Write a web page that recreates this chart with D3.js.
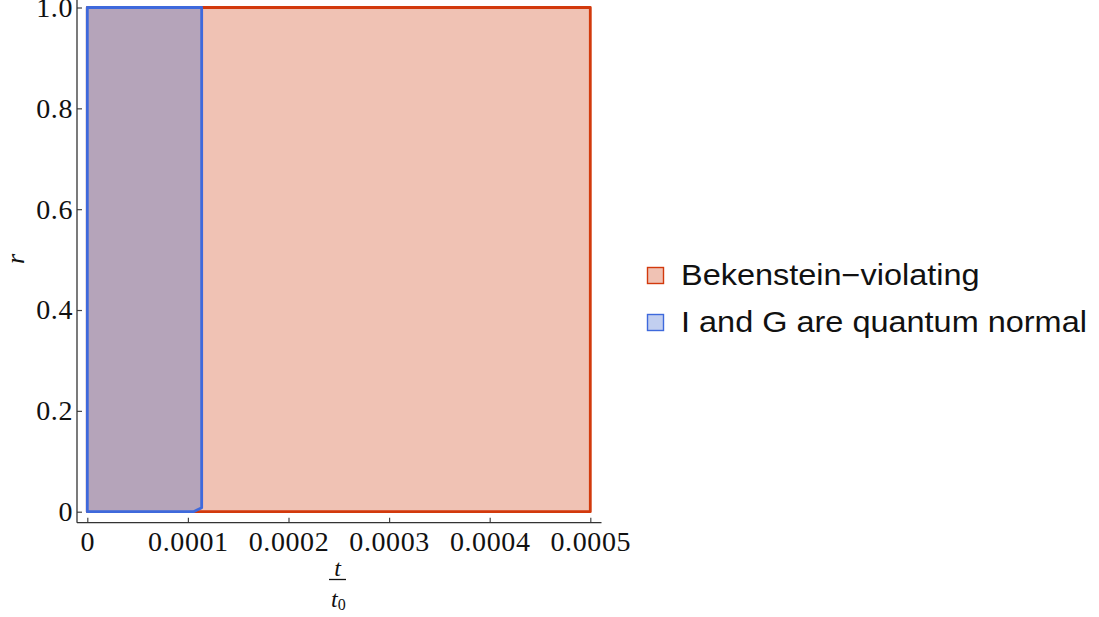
<!DOCTYPE html>
<html>
<head>
<meta charset="utf-8">
<script src="https://cdn.jsdelivr.net/npm/d3@7"></script>
<style>
  body { margin: 0; background: #fff; }
  .tick text { font-family: "Liberation Serif", serif; font-size: 28px; letter-spacing: 0.6px; fill: #111; }
  .leg { font-family: "Liberation Sans", Arial, sans-serif; font-size: 29px; fill: #111; }
</style>
</head>
<body>
<div id="chart"></div>
<script>
// Data
var xTicks = [0, 0.0001, 0.0002, 0.0003, 0.0004, 0.0005];
var yTicks = [0, 0.2, 0.4, 0.6, 0.8, 1.0];
var seriesNames = ["Bekenstein\u2212violating", "I and G are quantum normal"];
// region outlines as (t/t0, r) corners
var bekensteinRegion = [[0, 0], [0.0005, 0], [0.0005, 1], [0, 1]];
var quantumNormalRegion = [[0, 0], [0.0001056, 0], [0.0001137, 0.008], [0.0001137, 1], [0, 1]];

var svgWidth = 1099;
var svgHeight = 617;

var svg = d3.select("#chart")
  .append("svg")
  .attr("width", svgWidth)
  .attr("height", svgHeight);

// Scales
var x = d3.scaleLinear().domain([0, 0.0005]).range([87.3, 590.3]);
var y = d3.scaleLinear().domain([0, 1]).range([511.7, 7.5]);

var line = d3.line().x(d => x(d[0])).y(d => y(d[1])).curve(d3.curveLinearClosed);

// Regions
svg.append("path")
  .datum(bekensteinRegion)
  .attr("d", line)
  .attr("fill", "#f0c2b4")
  .attr("stroke", "#d2390c")
  .attr("stroke-width", 2.8)
  .attr("stroke-linejoin", "round");

svg.append("path")
  .datum(quantumNormalRegion)
  .attr("d", line)
  .attr("fill", "#b5a4ba")
  .attr("stroke", "#3e69dc")
  .attr("stroke-width", 2.8)
  .attr("stroke-linejoin", "round");

// Axes
var axisX = 522.7, axisY = 77;

var bottomAxis = d3.axisBottom(x)
  .tickValues(xTicks)
  .tickSizeInner(-5)
  .tickSizeOuter(0)
  .tickPadding(0)
  .tickFormat(d => d === 0 ? "0" : d.toFixed(4));

var gx = svg.append("g")
  .attr("transform", `translate(0, ${axisX})`)
  .call(bottomAxis);
gx.select(".domain").remove();
gx.selectAll(".tick line").attr("stroke", "#444").attr("stroke-width", 1.2);
gx.selectAll(".tick text").attr("y", 28).attr("dy", 0);

var leftAxis = d3.axisLeft(y)
  .tickValues(yTicks)
  .tickSizeInner(-5)
  .tickSizeOuter(0)
  .tickPadding(4)
  .tickFormat(d => d === 0 ? "0" : d.toFixed(1));

var gy = svg.append("g")
  .attr("transform", `translate(${axisY}, 0)`)
  .call(leftAxis);
gy.select(".domain").remove();
gy.selectAll(".tick line").attr("stroke", "#444").attr("stroke-width", 1.2);
gy.selectAll(".tick text").attr("dy", "0.32em");

// axis lines
svg.append("line")
  .attr("x1", axisY).attr("x2", 601.5)
  .attr("y1", axisX).attr("y2", axisX)
  .attr("stroke", "#333").attr("stroke-width", 1.3);
svg.append("line")
  .attr("x1", axisY).attr("x2", axisY)
  .attr("y1", 0).attr("y2", axisX)
  .attr("stroke", "#333").attr("stroke-width", 1.3);

// Axis labels
var xl = svg.append("g").attr("font-family", "Liberation Serif, serif").attr("font-style", "italic").attr("fill", "#111");
xl.append("text").attr("x", 337.5).attr("y", 575.5).attr("text-anchor", "middle").attr("font-size", 24).text("t");
xl.append("line").attr("x1", 329).attr("x2", 346).attr("y1", 579.5).attr("y2", 579.5).attr("stroke", "#111").attr("stroke-width", 1.3);
var t0 = xl.append("text").attr("x", 331).attr("y", 607).attr("font-size", 24);
t0.append("tspan").text("t");
t0.append("tspan").attr("font-style", "normal").attr("font-size", 16).attr("dy", 3).text("0");

svg.append("text")
  .attr("transform", "translate(24, 259) rotate(-90)")
  .attr("text-anchor", "middle")
  .attr("font-family", "Liberation Serif, serif")
  .attr("font-style", "italic")
  .attr("font-size", 26)
  .attr("fill", "#111")
  .text("r");

// Legend
var legendFill = ["#f0c2b4", "#c2cff0"];
var legendStroke = ["#d2390c", "#3e69dc"];
var legend = svg.selectAll(".legendItem")
  .data(seriesNames)
  .enter()
  .append("g")
  .attr("transform", (d, i) => `translate(647.5, ${267.5 + i * 47})`);

legend.append("rect")
  .attr("width", 16).attr("height", 16)
  .attr("fill", (d, i) => legendFill[i])
  .attr("stroke", (d, i) => legendStroke[i])
  .attr("stroke-width", 1.4);

legend.append("text")
  .attr("class", "leg")
  .attr("transform", "translate(33.5, 17.5) scale(1.12, 1)")
  .text(d => d);
</script>
</body>
</html>
